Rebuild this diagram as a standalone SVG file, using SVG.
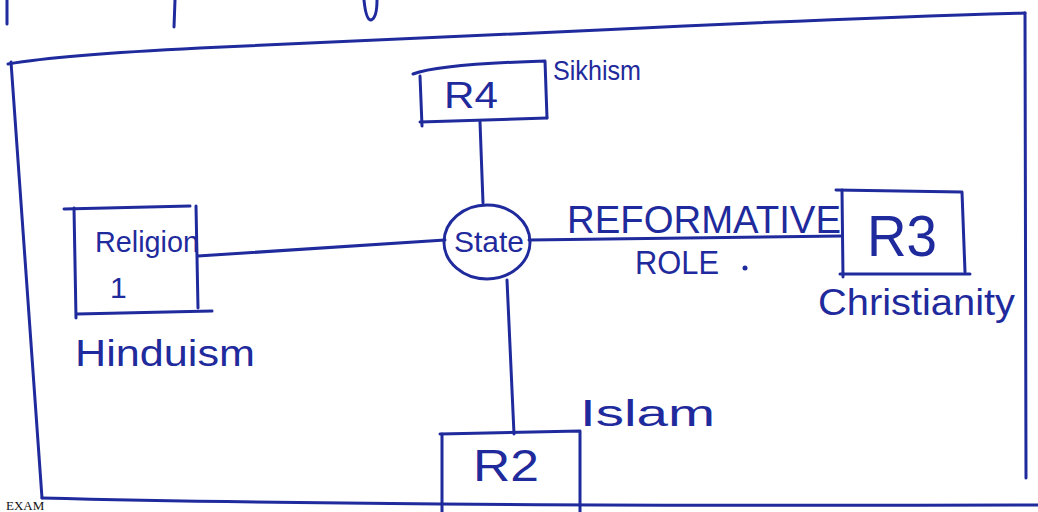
<svg xmlns="http://www.w3.org/2000/svg" width="1038" height="512" viewBox="0 0 1038 512">
<style>
.ink{fill:none;stroke:#1f2a9c;stroke-width:3;stroke-linecap:round;stroke-linejoin:round}
.t{fill:#1f2a9c;font-family:"Liberation Sans",Arial,sans-serif}
</style>
<rect width="1038" height="512" fill="#ffffff"/>
<g id="frame" class="ink">
<path d="M7,0 L7,24"/>
<path d="M175,0 L174,27"/>
<path d="M364,0 Q366,20 371,20 Q377,18 377,0"/>
<path d="M8,64 Q60,55 200,48 Q360,40 600,30 Q850,18 1025,13"/>
<path d="M1025,13 L1026,478"/>
<path d="M11,62 L42,498"/>
<path d="M42,498 Q200,502 440,504 Q700,506 1038,505"/>
</g>
<text x="6" y="510" font-family="'Liberation Serif',serif" font-size="13" fill="#111">EXAM</text>
<g id="connectors" class="ink">
<path d="M198,256 L445,240"/>
<path d="M480,122 L483,203"/>
<path d="M529,240 L842,236"/>
<path d="M507,280 L514,434"/>
</g>
<g id="r4" class="ink">
<path d="M413,74 Q440,64 545,61 L547,118"/>
<path d="M420,76 L422,126"/>
<path d="M420,122 L547,118"/>
<text class="t" x="444" y="108" font-size="36" textLength="54" lengthAdjust="spacingAndGlyphs" stroke="none">R4</text>
</g>
<text id="sikhism" class="t" x="553" y="80" font-size="28" textLength="88" lengthAdjust="spacingAndGlyphs">Sikhism</text>
<g id="religion1" class="ink">
<path d="M64,209 L190,206"/>
<path d="M74,208 L76,318"/>
<path d="M196,206 L198,308"/>
<path d="M77,314 L212,311"/>
<text class="t" x="95" y="252" font-size="30" textLength="104" lengthAdjust="spacingAndGlyphs" stroke="none">Religion</text>
<text class="t" x="110" y="298" font-size="30" stroke="none">1</text>
</g>
<text id="hinduism" class="t" x="75" y="366" font-size="36" textLength="180" lengthAdjust="spacingAndGlyphs">Hinduism</text>
<g id="state" class="ink">
<ellipse cx="487" cy="242" rx="43" ry="37"/>
<text class="t" x="454" y="252" font-size="30" textLength="70" lengthAdjust="spacingAndGlyphs" stroke="none">State</text>
</g>
<g id="reformative" class="t">
<text x="567" y="233" font-size="38" textLength="274" lengthAdjust="spacingAndGlyphs">REFORMATIVE</text>
<text x="635" y="274" font-size="34" textLength="84" lengthAdjust="spacingAndGlyphs">ROLE</text>
<circle cx="745" cy="268" r="2.5"/>
</g>
<g id="r3" class="ink">
<path d="M836,190 L962,192 L965,272"/>
<path d="M842,190 L843,277"/>
<path d="M840,274 L970,274"/>
<text class="t" x="867" y="256" font-size="58" textLength="70" lengthAdjust="spacingAndGlyphs" stroke="none">R3</text>
</g>
<text id="christianity" class="t" x="818" y="315" font-size="36" textLength="197" lengthAdjust="spacingAndGlyphs">Christianity</text>
<text id="islam" class="t" x="580" y="426" font-size="36" textLength="135" lengthAdjust="spacingAndGlyphs">Islam</text>
<g id="r2" class="ink">
<path d="M440,434 L580,431 L580,512"/>
<path d="M442,434 L442,512"/>
<text class="t" x="473" y="481" font-size="44" textLength="66" lengthAdjust="spacingAndGlyphs" stroke="none">R2</text>
</g>
</svg>
